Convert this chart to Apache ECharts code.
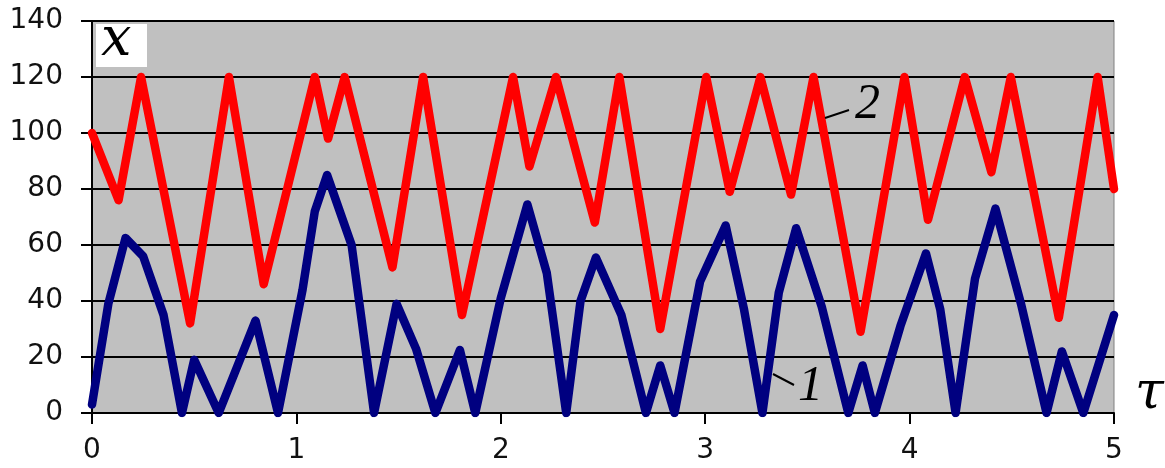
<!DOCTYPE html>
<html>
<head>
<meta charset="utf-8">
<script src="https://cdn.jsdelivr.net/npm/echarts@6/dist/echarts.min.js"></script>
<style>
html,body{margin:0;padding:0;background:#fff;}
#chart{width:1165px;height:468px;}
</style>
</head>
<body>
<div id="chart"></div>
<script>
// Series 1 (navy): tau / x readings
const tau1 = [0,0.08,0.164,0.25,0.35,0.44,0.50,0.62,0.80,0.91,1.03,1.09,1.15,1.27,1.38,1.49,1.585,1.68,1.80,1.875,2.0,2.13,2.225,2.32,2.39,2.465,2.59,2.71,2.78,2.85,2.975,3.10,3.19,3.28,3.36,3.445,3.57,3.70,3.77,3.83,3.955,4.08,4.15,4.225,4.32,4.42,4.545,4.67,4.745,4.85,5.0];
const val1 = [3,39,62.5,56,35,0,19,0,33,0,44,72,85,60,0,39,23,0,22.5,0,41,74.5,50,0,40,55.5,35,0,17,0,47,67,37,0,43,66,38,0,17,0,31,57,37,0,48,73,39,0,22,0,35];
// Series 2 (red)
const tau2 = [0,0.13,0.24,0.48,0.67,0.84,1.09,1.155,1.236,1.47,1.62,1.81,2.06,2.14,2.27,2.46,2.58,2.78,3.005,3.12,3.27,3.42,3.53,3.76,3.975,4.09,4.27,4.40,4.495,4.73,4.92,5.0];
const val2 = [100,76,120,32,120,46,120,98,120,52,120,35,120,88,120,68,120,30,120,79,120,78,120,29,120,69,120,86,120,34,120,80];
const xTicks = [0,1,2,3,4,5];
const yTicks = [0,20,40,60,80,100,120,140];

const pairs = (a,b) => a.map((t,i)=>[t,b[i]]);
const chart = echarts.init(document.getElementById('chart'), null, {renderer:'canvas'});
const sans = '"DejaVu Sans",sans-serif';
chart.setOption({
  animation:false,
  backgroundColor:'#ffffff',
  grid:{left:92,right:51,top:21,bottom:55,show:true,backgroundColor:'#c0c0c0',borderColor:'#808080',borderWidth:1},
  xAxis:{type:'value',min:xTicks[0],max:xTicks[xTicks.length-1],interval:1,
    axisLine:{show:true,onZero:false,lineStyle:{color:'#000',width:2}},
    axisTick:{show:true,length:11,lineStyle:{color:'#000',width:2}},
    axisLabel:{margin:24,fontFamily:sans,fontSize:28,color:'#111'},
    splitLine:{show:false}},
  yAxis:{type:'value',min:yTicks[0],max:yTicks[yTicks.length-1],interval:20,
    axisLine:{show:true,lineStyle:{color:'#000',width:2}},
    axisTick:{show:true,length:11,lineStyle:{color:'#000',width:2}},
    axisLabel:{margin:29,fontFamily:sans,fontSize:28,color:'#111'},
    splitLine:{show:true,lineStyle:{color:'#000',width:2}}},
  series:[
    {type:'line',data:pairs(tau1,val1),showSymbol:false,lineStyle:{color:'#000080',width:8.5,cap:'round',join:'round'},z:3},
    {type:'line',data:pairs(tau2,val2),showSymbol:false,lineStyle:{color:'#ff0000',width:8.5,cap:'round',join:'round'},z:4}
  ],
  graphic:[
    {type:'rect',left:96,top:24,shape:{width:51,height:43},style:{fill:'#fff'},z:10},
    {type:'text',left:101,top:14,style:{text:'x',fontFamily:'"DejaVu Serif",serif',fontStyle:'italic',fontSize:54,fill:'#000'},z:11},
    {type:'text',left:1135,top:368,style:{text:'τ',fontFamily:'"DejaVu Serif",serif',fontStyle:'italic',fontSize:52,fill:'#000'},z:11},
    {type:'line',shape:{x1:825,y1:118,x2:849,y2:110},style:{stroke:'#000',lineWidth:2},z:11},
    {type:'text',left:855,top:80,style:{text:'2',fontFamily:'"Liberation Serif",serif',fontStyle:'italic',fontSize:50,fill:'#000'},z:11},
    {type:'line',shape:{x1:773,y1:374,x2:794,y2:385},style:{stroke:'#000',lineWidth:2},z:11},
    {type:'text',left:798,top:362,style:{text:'1',fontFamily:'"Liberation Serif",serif',fontStyle:'italic',fontSize:50,fill:'#000'},z:11}
  ]
});
</script>
</body>
</html>
